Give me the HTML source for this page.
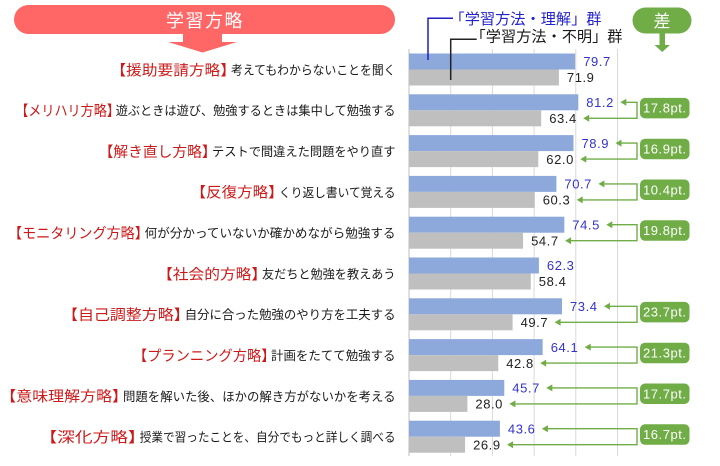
<!DOCTYPE html>
<html><head><meta charset="utf-8"><style>
html,body{margin:0;padding:0;background:#fff;}
svg{display:block;}
text{font-family:"Liberation Sans","Noto Sans CJK JP",sans-serif;}
.r{fill:#CC1A1A;font-size:14.5px;}
.k{fill:#1a1a1a;font-size:12.5px;}
.nb{fill:#3333CC;font-size:13px;}
.ng{fill:#222;font-size:13px;}
.bd{fill:#fff;font-size:13px;}
</style></head><body>
<svg width="720" height="466" viewBox="0 0 720 466" xmlns="http://www.w3.org/2000/svg">
<rect width="720" height="466" fill="#fff"/>
<!-- header pill -->
<rect x="14" y="5" width="381" height="29" rx="14.5" fill="#FF6666"/>
<polygon points="183,33 222,33 222,42 237,42 202.5,52.5 168,42 183,42" fill="#FF6666"/>
<text x="205" y="26.8" text-anchor="middle" fill="#fff" font-size="18" letter-spacing="1.5">学習方略</text>
<!-- green pill -->
<rect x="632.5" y="7.5" width="59" height="26" rx="13" fill="#70AD47"/>
<polygon points="659.5,33 665,33 665,45 670,45 662.2,52 654.5,45 659.5,45" fill="#70AD47"/>
<text x="662" y="27" text-anchor="middle" fill="#fff" font-size="17">差</text>
<!-- gridlines -->
<g stroke="#D9D9D9" stroke-width="1">
<line x1="450.7" y1="49" x2="450.7" y2="456"/>
<line x1="492.4" y1="49" x2="492.4" y2="456"/>
<line x1="534.1" y1="49" x2="534.1" y2="456"/>
<line x1="575.8" y1="49" x2="575.8" y2="456"/>
<line x1="617.5" y1="49" x2="617.5" y2="456"/>
</g>
<line x1="409" y1="49" x2="409" y2="456" stroke="#BFBFBF" stroke-width="1"/>
<!-- bars -->
<g fill="#8DA9DB">
<rect x="409" y="53.5" width="166.17" height="16"/>
<rect x="409" y="94.3" width="169.30" height="16"/>
<rect x="409" y="135.1" width="164.51" height="16"/>
<rect x="409" y="175.9" width="147.41" height="16"/>
<rect x="409" y="216.7" width="155.33" height="16"/>
<rect x="409" y="257.5" width="129.90" height="16"/>
<rect x="409" y="298.3" width="153.04" height="16"/>
<rect x="409" y="339.1" width="133.65" height="16"/>
<rect x="409" y="379.9" width="95.28" height="16"/>
<rect x="409" y="420.7" width="90.91" height="16"/>
</g>
<g fill="#BFBFBF">
<rect x="409" y="69.5" width="149.91" height="16"/>
<rect x="409" y="110.3" width="132.19" height="16"/>
<rect x="409" y="151.1" width="129.27" height="16"/>
<rect x="409" y="191.9" width="125.73" height="16"/>
<rect x="409" y="232.7" width="114.05" height="16"/>
<rect x="409" y="273.5" width="121.76" height="16"/>
<rect x="409" y="314.3" width="103.62" height="16"/>
<rect x="409" y="355.1" width="89.24" height="16"/>
<rect x="409" y="395.9" width="58.38" height="16"/>
<rect x="409" y="436.7" width="56.09" height="16"/>
</g>
<!-- legend leaders -->
<path d="M453,18.3 H428 V60" fill="none" stroke="#1f1fbf" stroke-width="1.5"/>
<path d="M476.7,39.3 H450.7 V80" fill="none" stroke="#222" stroke-width="1.5"/>
<text x="449.5" y="24" fill="#2222CC" font-size="15" textLength="152" lengthAdjust="spacingAndGlyphs">「学習方法・理解」群</text>
<text x="470.5" y="41.7" fill="#1a1a1a" font-size="15" textLength="152" lengthAdjust="spacingAndGlyphs">「学習方法・不明」群</text>
<!-- value labels -->
<g class="nb">
<text class="nb" x="583.2" y="66.2" textLength="27">79.7</text>
<text class="nb" x="586.3" y="107" textLength="27">81.2</text>
<text class="nb" x="581.5" y="147.8" textLength="27">78.9</text>
<text class="nb" x="564.4" y="188.6" textLength="27">70.7</text>
<text class="nb" x="572.3" y="229.4" textLength="27">74.5</text>
<text class="nb" x="546.9" y="270.2" textLength="27">62.3</text>
<text class="nb" x="570.0" y="311" textLength="27">73.4</text>
<text class="nb" x="550.7" y="351.8" textLength="27">64.1</text>
<text class="nb" x="512.3" y="392.6" textLength="27">45.7</text>
<text class="nb" x="507.9" y="433.4" textLength="27">43.6</text>
</g>
<g>
<text class="ng" x="566.9" y="82.2" textLength="27">71.9</text>
<text class="ng" x="549.2" y="123" textLength="27">63.4</text>
<text class="ng" x="546.3" y="163.8" textLength="27">62.0</text>
<text class="ng" x="542.7" y="204.6" textLength="27">60.3</text>
<text class="ng" x="531.1" y="245.4" textLength="27">54.7</text>
<text class="ng" x="538.8" y="286.2" textLength="27">58.4</text>
<text class="ng" x="520.6" y="327" textLength="27">49.7</text>
<text class="ng" x="506.2" y="367.8" textLength="27">42.8</text>
<text class="ng" x="475.4" y="408.6" textLength="27">28.0</text>
<text class="ng" x="473.1" y="449.4" textLength="27">26.9</text>
</g>
<!-- connectors -->
<g fill="none" stroke="#70AD47" stroke-width="1.4">
<path d="M625.3,102.3 H637 V118.3 H588.2"/>
<path d="M620.5,143.1 H637 V159.1 H585.3"/>
<path d="M603.4,183.9 H637 V199.9 H581.7"/>
<path d="M611.3,224.7 H637 V240.7 H570.1"/>
<path d="M609.0,306.3 H637 V322.3 H559.6"/>
<path d="M589.7,347.1 H637 V363.1 H545.2"/>
<path d="M551.3,387.9 H637 V403.9 H514.4"/>
<path d="M546.9,428.7 H637 V444.7 H512.1"/>
</g>
<g fill="#70AD47">
<polygon points="620.3,102.3 626.3,98.8 626.3,105.8"/>
<polygon points="583.2,118.3 589.2,114.8 589.2,121.8"/>
<polygon points="615.5,143.1 621.5,139.6 621.5,146.6"/>
<polygon points="580.3,159.1 586.3,155.6 586.3,162.6"/>
<polygon points="598.4,183.9 604.4,180.4 604.4,187.4"/>
<polygon points="576.7,199.9 582.7,196.4 582.7,203.4"/>
<polygon points="606.3,224.7 612.3,221.2 612.3,228.2"/>
<polygon points="565.1,240.7 571.1,237.2 571.1,244.2"/>
<polygon points="604.0,306.3 610.0,302.8 610.0,309.8"/>
<polygon points="554.6,322.3 560.6,318.8 560.6,325.8"/>
<polygon points="584.7,347.1 590.7,343.6 590.7,350.6"/>
<polygon points="540.2,363.1 546.2,359.6 546.2,366.6"/>
<polygon points="546.3,387.9 552.3,384.4 552.3,391.4"/>
<polygon points="509.4,403.9 515.4,400.4 515.4,407.4"/>
<polygon points="541.9,428.7 547.9,425.2 547.9,432.2"/>
<polygon points="507.1,444.7 513.1,441.2 513.1,448.2"/>
</g>
<!-- badges -->
<g fill="#70AD47">
<rect x="640" y="97.9" width="49.5" height="20.5" rx="5"/>
<rect x="640" y="138.7" width="49.5" height="20.5" rx="5"/>
<rect x="640" y="179.5" width="49.5" height="20.5" rx="5"/>
<rect x="640" y="220.3" width="49.5" height="20.5" rx="5"/>
<rect x="640" y="301.9" width="49.5" height="20.5" rx="5"/>
<rect x="640" y="342.7" width="49.5" height="20.5" rx="5"/>
<rect x="640" y="383.5" width="49.5" height="20.5" rx="5"/>
<rect x="640" y="424.3" width="49.5" height="20.5" rx="5"/>
</g>
<g>
<text class="bd" x="643" y="112.7" textLength="43">17.8pt.</text>
<text class="bd" x="643" y="153.5" textLength="43">16.9pt.</text>
<text class="bd" x="643" y="194.3" textLength="43">10.4pt.</text>
<text class="bd" x="643" y="235.1" textLength="43">19.8pt.</text>
<text class="bd" x="643" y="316.7" textLength="43">23.7pt.</text>
<text class="bd" x="643" y="357.5" textLength="43">21.3pt.</text>
<text class="bd" x="643" y="398.3" textLength="43">17.7pt.</text>
<text class="bd" x="643" y="439.1" textLength="43">16.7pt.</text>
</g>
<!-- category labels -->
<g>
<text class="r" x="110.5" y="75.3" textLength="125.4" lengthAdjust="spacingAndGlyphs">【援助要請方略】</text>
<text class="k" x="231" y="74.4" textLength="164.5" lengthAdjust="spacingAndGlyphs">考えてもわからないことを聞く</text>

<text class="r" x="15.2" y="116.1" textLength="104.7" lengthAdjust="spacingAndGlyphs">【メリハリ方略】</text>
<text class="k" x="115.7" y="115.2" textLength="279.8" lengthAdjust="spacingAndGlyphs">遊ぶときは遊び、勉強するときは集中して勉強する</text>

<text class="r" x="98.6" y="156.9" textLength="118.1" lengthAdjust="spacingAndGlyphs">【解き直し方略】</text>
<text class="k" x="212" y="156" textLength="183.5" lengthAdjust="spacingAndGlyphs">テストで間違えた問題をやり直す</text>

<text class="r" x="190.5" y="197.7" textLength="93.2" lengthAdjust="spacingAndGlyphs">【反復方略】</text>
<text class="k" x="279" y="196.8" textLength="116.5" lengthAdjust="spacingAndGlyphs">くり返し書いて覚える</text>

<text class="r" x="8" y="238.5" textLength="140.8" lengthAdjust="spacingAndGlyphs">【モニタリング方略】</text>
<text class="k" x="144.7" y="237.6" textLength="250.8" lengthAdjust="spacingAndGlyphs">何が分かっていないか確かめながら勉強する</text>

<text class="r" x="157.1" y="279.3" textLength="110" lengthAdjust="spacingAndGlyphs">【社会的方略】</text>
<text class="k" x="262" y="278.4" textLength="133.5" lengthAdjust="spacingAndGlyphs">友だちと勉強を教えあう</text>

<text class="r" x="62" y="320.1" textLength="127.7" lengthAdjust="spacingAndGlyphs">【自己調整方略】</text>
<text class="k" x="184.7" y="319.2" textLength="210.8" lengthAdjust="spacingAndGlyphs">自分に合った勉強のやり方を工夫する</text>

<text class="r" x="132.9" y="360.9" textLength="142.6" lengthAdjust="spacingAndGlyphs">【プランニング方略】</text>
<text class="k" x="271" y="360" textLength="124.5" lengthAdjust="spacingAndGlyphs">計画をたてて勉強する</text>

<text class="r" x="0.3" y="401.7" textLength="127.7" lengthAdjust="spacingAndGlyphs">【意味理解方略】</text>
<text class="k" x="123" y="400.8" textLength="272.5" lengthAdjust="spacingAndGlyphs">問題を解いた後、ほかの解き方がないかを考える</text>

<text class="r" x="39.5" y="442.5" textLength="106.1" lengthAdjust="spacingAndGlyphs">【深化方略】</text>
<text class="k" x="139.7" y="441.6" textLength="255.8" lengthAdjust="spacingAndGlyphs">授業で習ったことを、自分でもっと詳しく調べる</text>
</g>
</svg>
</body></html>
